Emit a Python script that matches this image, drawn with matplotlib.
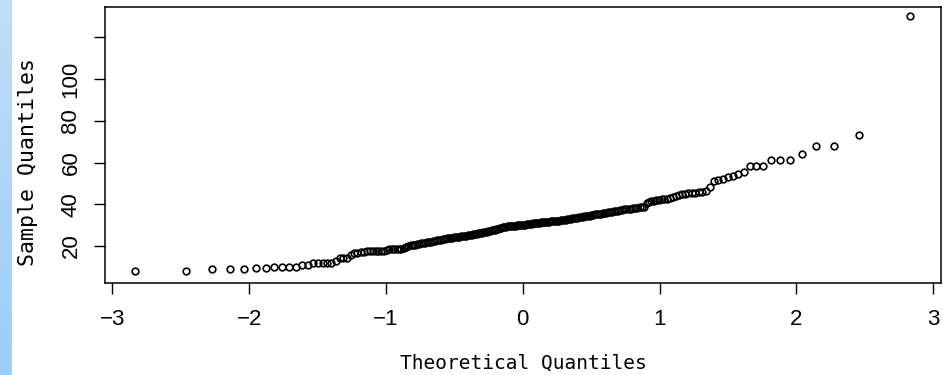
import matplotlib
matplotlib.use("Agg")
import matplotlib.pyplot as plt
import numpy as np
from statistics import NormalDist

# sorted sample values (216 points)
sample_low = [8.0, 8.0, 8.8, 8.8, 8.8, 9.3, 9.3, 10.1, 10.1, 10.1,
              10.1, 10.9, 10.9, 11.7, 11.7, 11.7, 11.7, 11.7, 12.9, 14.4,
              14.4, 14.4, 15.7, 16.5, 16.5, 17.3, 17.3, 17.7, 17.7, 17.7,
              17.7, 17.7, 17.7, 17.7, 18.1, 18.6, 18.6, 18.6, 18.6, 18.6,
              18.6, 19.0, 19.7]
sample_mid = [20.0, 20.3, 20.5, 20.6, 20.8, 21.0, 21.2, 21.4, 21.5, 21.7,
              21.9, 22.1, 22.3, 22.5, 22.7, 22.9, 23.0, 23.2, 23.4, 23.7,
              23.8, 23.9, 24.0, 24.2, 24.3, 24.4, 24.5, 24.7, 24.8, 24.9,
              25.0, 25.2, 25.3, 25.5, 25.6, 25.7, 25.8, 26.0, 26.1,
              26.3, 26.5, 26.7, 26.9, 27.1, 27.3, 27.5, 27.7, 27.9, 28.1,
              28.3, 28.5, 28.7, 28.9, 29.1, 29.3,
              29.4, 29.5, 29.6, 29.6, 29.7, 29.8, 29.9, 30.0, 30.1, 30.1,
              30.2, 30.3, 30.4, 30.5, 30.6,
              30.7, 30.8, 30.9, 31.0, 31.1, 31.2, 31.3, 31.4, 31.4, 31.5,
              31.6, 31.7, 31.8, 31.9, 32.0, 32.1, 32.2, 32.2, 32.3, 32.4, 32.5,
              32.6, 32.8, 32.9, 33.1, 33.2, 33.3, 33.5, 33.6, 33.8, 33.9,
              34.1, 34.2, 34.3, 34.5, 34.6, 34.8, 34.9,
              35.1, 35.2, 35.4, 35.5, 35.7, 35.9, 36.0, 36.2, 36.4, 36.5,
              36.7, 36.8, 37.0, 37.1, 37.3, 37.5, 37.6, 37.8, 37.9, 38.1,
              38.3, 38.4, 38.6, 38.8, 38.9]
sample_high = [40.5, 41.3, 41.5, 41.7, 41.9, 42.1, 42.3, 42.5, 42.7, 42.9,
               43.6, 44.0, 44.5, 44.8, 45.0, 45.3, 45.4, 45.6, 45.8, 46.0,
               46.5, 48.1, 51.3, 51.8, 52.3, 53.1, 53.6, 54.4, 55.6, 58.5,
               58.5, 58.5, 61.2, 61.2, 61.2, 64.0, 68.1, 68.1, 73.2, 130.3]

sample = np.array(sample_low + sample_mid + sample_high)
n = len(sample)

# theoretical quantiles like R's qqnorm (ppoints, a = 0.5)
theo = np.array([NormalDist().inv_cdf((i - 0.5) / n) for i in range(1, n + 1)])

x_ticks = [-3, -2, -1, 0, 1, 2, 3]
y_ticks = [20, 40, 60, 80, 100, 120]
y_tick_labels = ["20", "40", "60", "80", "100", ""]

W, H = 943, 375
fig = plt.figure(figsize=(W / 100, H / 100), dpi=100)

# blue strip on the left edge
strip = fig.add_axes([0, 0, 12 / W, 1])
top_c = np.array([192, 222, 246]) / 255
bot_c = np.array([155, 205, 250]) / 255
grad = np.linspace(0, 1, 200)[:, None, None]
strip.imshow(top_c * (1 - grad) + bot_c * grad, aspect="auto")
strip.axis("off")

ax = fig.add_axes([105 / W, 1 - 283 / H, 836 / W, 276 / H])
ax.plot(theo, sample, "o", mfc="none", mec="black", ms=4.8, mew=1.2)

ax.set_xlim(-3.053, 3.056)
ax.set_ylim(2.25, 134.6)

tick_font = {"family": ["Liberation Sans Narrow", "Liberation Sans", "DejaVu Sans"],
             "size": 16}
ax.set_xticks(x_ticks)
ax.set_xticklabels([str(t).replace("-", "\u2212") for t in x_ticks], fontdict=tick_font)
ax.set_yticks(y_ticks)
ax.set_yticklabels(y_tick_labels, fontdict=tick_font, rotation=90, va="center")
ax.tick_params(axis="x", length=8, width=1.0, pad=11)
ax.tick_params(axis="y", length=8, width=1.0, pad=9)
for s in ax.spines.values():
    s.set_linewidth(1.1)

label_font = ["DejaVu Sans Mono"]
fig.text(523 / W, 1 - 363 / H, "Theoretical Quantiles", ha="center", va="center",
         family=label_font, fontsize=14)
fig.text(28 / W, 1 - 162 / H, "Sample Quantiles", ha="center", va="center",
         rotation=90, family=label_font, fontsize=15.5)

fig.savefig("out.png", dpi=100)
